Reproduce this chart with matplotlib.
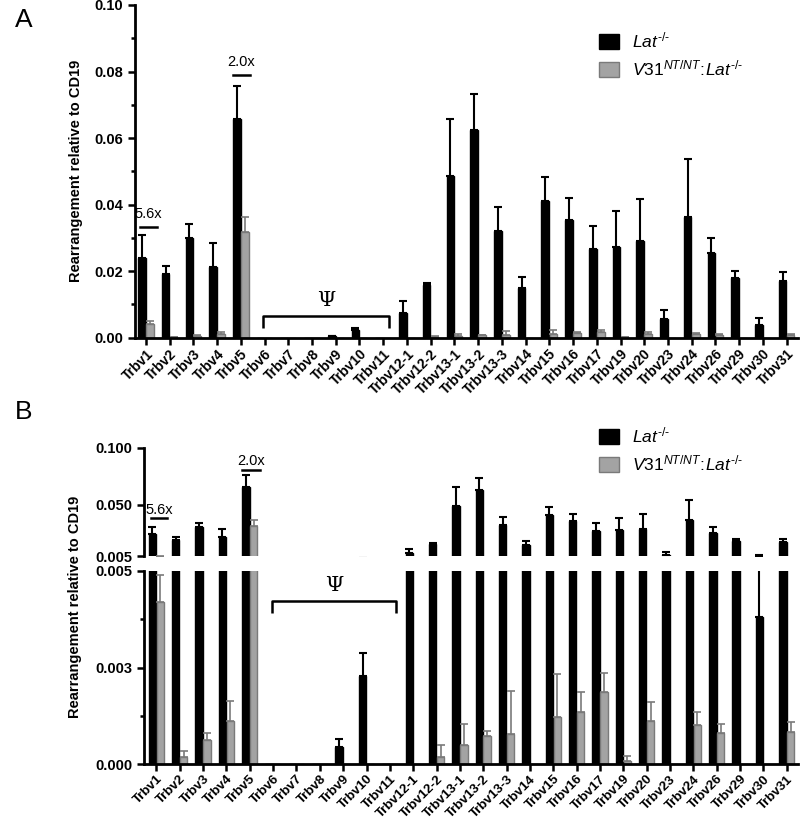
import numpy as np
import matplotlib
matplotlib.use('Agg')
import matplotlib.pyplot as plt
from matplotlib.ticker import FixedLocator, MultipleLocator, FormatStrFormatter

plt.rcParams['font.family'] = ['Liberation Sans', 'DejaVu Sans']
plt.rcParams['mathtext.fontset'] = 'custom'
plt.rcParams['mathtext.rm'] = 'Liberation Sans'
plt.rcParams['mathtext.it'] = 'Liberation Sans:italic'

# data
genes = ['Trbv1', 'Trbv2', 'Trbv3', 'Trbv4', 'Trbv5', 'Trbv6', 'Trbv7', 'Trbv8',
         'Trbv9', 'Trbv10', 'Trbv11', 'Trbv12-1', 'Trbv12-2', 'Trbv13-1',
         'Trbv13-2', 'Trbv13-3', 'Trbv14', 'Trbv15', 'Trbv16', 'Trbv17',
         'Trbv19', 'Trbv20', 'Trbv23', 'Trbv24', 'Trbv26', 'Trbv29', 'Trbv30',
         'Trbv31']
lat_mean = [0.0241, 0.0191, 0.0300, 0.0213, 0.0658, 0, 0, 0, 0.00045, 0.00228,
            0, 0.0075, 0.0157, 0.0487, 0.0625, 0.0321, 0.0148, 0.0410, 0.0355,
            0.0266, 0.0274, 0.0290, 0.0057, 0.0364, 0.0255, 0.0180, 0.0038,
            0.0170]
lat_sem = [0.0067, 0.0024, 0.0041, 0.0072, 0.0100, 0, 0, 0, 0.0002, 0.0006,
           0, 0.0036, 0.0008, 0.0170, 0.0107, 0.0073, 0.0034, 0.0074, 0.0066,
           0.0070, 0.0106, 0.0127, 0.0027, 0.0173, 0.0046, 0.0020, 0.0020,
           0.0026]
v31_mean = [0.0042, 0.00017, 0.00062, 0.00112, 0.0317, 0, 0, 0, 0, 0, 0, 0,
            0.00019, 0.00049, 0.00073, 0.00079, 0, 0.00122, 0.00136, 0.00186,
            0.00009, 0.00111, 0, 0.00101, 0.00081, 0, 0, 0.00084]
v31_sem = [0.0007, 0.00016, 0.00018, 0.0005, 0.0047, 0, 0, 0, 0, 0, 0, 0,
           0.0003, 0.00055, 0.00013, 0.0011, 0, 0.0011, 0.0005, 0.0005,
           0.00013, 0.0005, 0, 0.00035, 0.00022, 0, 0, 0.00026]

BLACK = '#000000'
GFACE = '#a3a3a3'
GEDGE = '#7a7a7a'
W = 0.32
OFF = 0.17
LAB1 = r'$Lat^{\text{-/-}}$'
LAB2 = r'$V31^{NT/NT}\!:\!Lat^{\text{-/-}}$'

x = np.arange(len(genes))
lat_mean = np.array(lat_mean)
lat_sem = np.array(lat_sem, dtype=float)
v31_mean = np.array(v31_mean)
v31_sem = np.array(v31_sem, dtype=float)


def draw_bars(ax):
    b1 = ax.bar(x - OFF, lat_mean, W, color=BLACK, edgecolor=BLACK, lw=1)
    b2 = ax.bar(x + OFF, v31_mean, W, color=GFACE, edgecolor=GEDGE, lw=1)
    m = lat_sem > 0
    ax.errorbar(x[m] - OFF, lat_mean[m], yerr=[np.zeros(m.sum()), lat_sem[m]],
                fmt='none', ecolor=BLACK, elinewidth=1.5, capsize=3, capthick=1.5)
    m = v31_sem > 0
    ax.errorbar(x[m] + OFF, v31_mean[m], yerr=[np.zeros(m.sum()), v31_sem[m]],
                fmt='none', ecolor=GEDGE, elinewidth=1.2, capsize=3, capthick=1.2)
    return b1, b2


def style(ax, show_x=True, xsize=10):
    for s in ['top', 'right']:
        ax.spines[s].set_visible(False)
    ax.spines['left'].set_linewidth(2)
    ax.spines['bottom'].set_linewidth(2)
    ax.tick_params(axis='both', which='major', width=1.8, length=5,
                   labelsize=10.5)
    ax.tick_params(axis='x', pad=1.5)
    ax.tick_params(axis='y', which='minor', width=1.8, length=3)
    for lab in ax.get_yticklabels():
        lab.set_fontweight('bold')
    if show_x:
        ax.set_xticks(x)
        ax.set_xticklabels(genes, rotation=45, ha='right',
                           rotation_mode='anchor', fontweight='bold',
                           fontsize=xsize)
    else:
        ax.spines['bottom'].set_visible(False)
        ax.set_xticks([])


def bracket(ax, y0, y1, ytxt):
    ax.plot([4.95, 4.95, 10.25, 10.25], [y1, y0, y0, y1], color='black',
            lw=1.8, solid_capstyle='butt', clip_on=False)
    ax.text(7.6, ytxt, 'Ψ', family='DejaVu Serif', fontsize=15,
            ha='center', va='bottom')


def fold(ax, x0, x1, y, txt, ytxt):
    ax.plot([x0, x1], [y, y], color='black', lw=1.8, clip_on=False)
    ax.text((x0 + x1) / 2, ytxt, txt, ha='center', va='bottom', fontsize=10.5)


def legend(ax, b1, b2, y_top):
    ax.legend([b1, b2], [LAB1, LAB2],
              loc='upper left', bbox_to_anchor=(583 / 800, 1 - y_top / 822),
              bbox_transform=fig.transFigure, frameon=False, fontsize=12.5,
              handlelength=1.2, handleheight=1.0, handletextpad=0.7,
              labelspacing=0.45)


fig = plt.figure(figsize=(8, 8.22), dpi=100)

# ---- panel A
axA = fig.add_axes([135 / 800, 1 - 337.7 / 822, 663 / 800, 332.7 / 822])
b1, b2 = draw_bars(axA)
axA.set_xlim(-0.46, 27.48)
axA.set_ylim(0, 0.10)
axA.yaxis.set_major_locator(MultipleLocator(0.02))
axA.yaxis.set_minor_locator(MultipleLocator(0.01))
axA.yaxis.set_major_formatter(FormatStrFormatter('%.2f'))
style(axA)
axA.set_ylabel('Rearrangement relative to CD19', fontweight='bold',
               fontsize=10.5, labelpad=8)
bracket(axA, 0.0065, 0.003, 0.0082)
fold(axA, -0.25, 0.45, 0.0334, '5.6x', 0.0352)
fold(axA, 3.68, 4.38, 0.079, '2.0x', 0.0808)
legend(axA, b1, b2, 15)
fig.text(15 / 800, 1 - 20 / 822, 'A', fontsize=19, va='center', ha='left')

# ---- panel B, broken axis
left_b = 144 / 800
wid_b = (798 - 144) / 800
axBt = fig.add_axes([left_b, 1 - 556 / 822, wid_b, (556 - 447.7) / 822])
axBb = fig.add_axes([left_b, 1 - 764 / 822, wid_b, (764 - 571) / 822])
for ax in (axBt, axBb):
    draw_bars(ax)
    ax.set_xlim(-0.53, 27.48)
axBt.set_ylim(0.005, 0.100)
axBt.yaxis.set_major_locator(FixedLocator([0.005, 0.05, 0.1]))
axBt.yaxis.set_major_formatter(FormatStrFormatter('%.3f'))
style(axBt, show_x=False)

axBb.set_ylim(0, 0.005)
axBb.yaxis.set_major_locator(FixedLocator([0, 0.0025, 0.005]))
axBb.yaxis.set_minor_locator(FixedLocator([0.00125, 0.00375]))
axBb.set_yticklabels(['0.000', '0.003', '0.005'])
style(axBb, xsize=9.5)

bracket(axBb, 0.00422, 0.0039, 0.00437)
fold(axBt, -0.25, 0.47, 0.038, '5.6x', 0.0395)
fold(axBt, 3.68, 4.42, 0.0804, '2.0x', 0.082)
legend(axBt, b1, b2, 410)
fig.text(15 / 800, 1 - 412 / 822, 'B', fontsize=19, va='center', ha='left')
fig.text(75 / 800, 1 - 607 / 822, 'Rearrangement relative to CD19',
         rotation=90, fontweight='bold', fontsize=10.5, ha='center', va='center')

fig.savefig('out.png', dpi=100)
